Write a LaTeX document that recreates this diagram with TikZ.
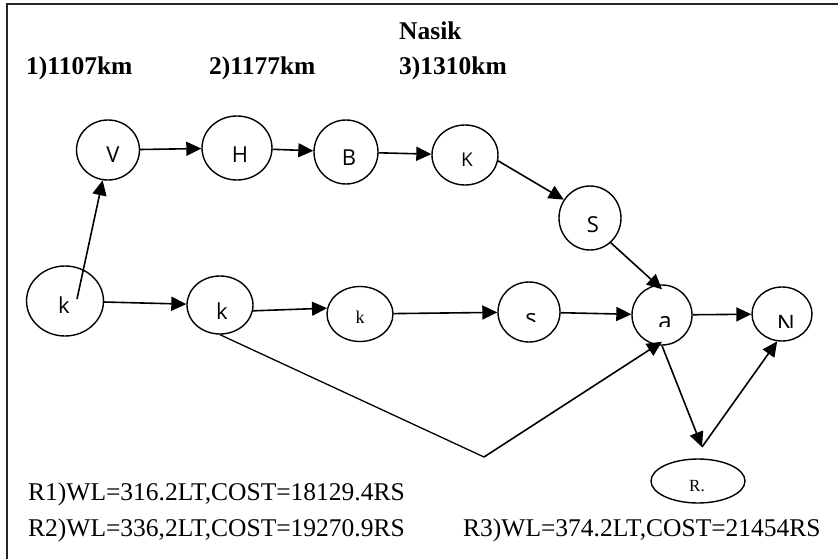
\documentclass[tikz,border=0pt]{standalone}
\usepackage{fontspec}
\setmainfont{Liberation Serif}
\newfontfamily\sansf{Open Sans}
\usetikzlibrary{arrows.meta,shapes.geometric}
\begin{document}
\begin{tikzpicture}[x=1pt,y=-1pt,
  circ/.style={draw,ellipse,inner sep=0pt,line width=1.4pt},
  conn/.style={-{Triangle[length=15pt,width=14pt]},line width=1.6pt},
  plain/.style={line width=1.3pt},
  lab/.style={inner sep=0pt,anchor=base,font=\sansf\fontsize{22}{22}\selectfont},
  clab/.style={inner sep=0pt,anchor=north,font=\sansf\fontsize{24}{24}\selectfont},
  slab/.style={inner sep=0pt,anchor=base,font=\fontsize{18}{18}\selectfont},
  head/.style={inner sep=0pt,anchor=base west,font=\bfseries\fontsize{25.5}{25.5}\selectfont},
  foot/.style={inner sep=0pt,anchor=base west,font=\fontsize{25.5}{25.5}\selectfont},
  frame/.style={line width=2pt,black!85}]
\fill[white] (0,0) rectangle (838,559);
\useasboundingbox (0,0) rectangle (838,559);
\draw[frame] (838,4) -- (7,4) -- (7,559);

% texts
\node[head] (title) at (399,40) {Nasik};
\node[head] (d1) at (26,75) {1)1107km};
\node[head] (d2) at (209,75) {2)1177km};
\node[head] (d3) at (399,75) {3)1310km};
\node[foot] (r1) at (28,500) {R1)WL=316.2LT,COST=18129.4RS};
\node[foot] (r2) at (28,536) {R2)WL=336,2LT,COST=19270.9RS};
\node[foot] (r3) at (463,536) {R3)WL=374.2LT,COST=21454RS};

% nodes
\node[circ,minimum width=77pt,minimum height=70pt] (k1) at (65,301) {};
\node[circ,minimum width=63pt,minimum height=60pt] (V) at (108,150) {};
\node[circ,minimum width=70pt,minimum height=64pt] (H) at (237,148) {};
\node[circ,minimum width=64pt,minimum height=64pt] (B) at (346,152) {};
\node[circ,minimum width=66pt,minimum height=60pt] (K) at (465,155) {};
\node[circ,minimum width=62pt,minimum height=64pt] (S) at (590,218) {};
\node[circ,minimum width=66pt,minimum height=58pt] (k2) at (220,305) {};
\node[circ,minimum width=66pt,minimum height=55pt] (k3) at (360,314) {};
\node[circ,minimum width=62pt,minimum height=60pt] (s) at (529,312) {};
\node[circ,minimum width=60pt,minimum height=60pt] (a) at (662,315) {};
\node[circ,minimum width=60pt,minimum height=54pt] (N) at (782,314) {};
\node[circ,minimum width=94pt,minimum height=44pt] (R) at (698,481) {};

% labels
\node[lab] (lk1) at (64,313) {k};
\node[lab] (lV) at (113,162) {V};
\node[lab] (lH) at (240,162) {H};
\node[lab] (lB) at (349,165) {B};
\node[lab,font=\sansf\fontsize{19}{19}\selectfont] (lK) at (467,167) {K};
\node[lab] (lS) at (593,232) {S};
\begin{scope}
\clip (195,290) rectangle (250,318);
\node[lab] (lk2) at (222,319) {k};
\end{scope}
\node[slab] (lk3) at (360,323) {k};
\node[slab,font=\fontsize{17}{17}\selectfont] (lR) at (697,491) {R.};
\begin{scope}
\clip (500,300) rectangle (560,321);
\node[clab] (ls) at (531,313) {s};
\end{scope}
\begin{scope}
\clip (640,300) rectangle (690,326);
\node[clab] (la) at (665,316) {a};
\end{scope}
\begin{scope}
\clip (760,300) rectangle (810,327);
\node[clab] (lN) at (786,315) {N};
\end{scope}

% connectors
\coordinate (kin) at (77,299);
\coordinate (vtx) at (484,457);
\coordinate (rv) at (702,447);
\draw[conn] (kin) -- (V.-100);
\draw[conn] (V) -- (H);
\draw[conn] (H) -- (B);
\draw[conn] (B) -- (K);
\draw[conn] (K.-10) -- (S.145);
\draw[conn] (S.-50) -- ([yshift=-5pt]a.north);
\draw[conn] (k1) -- (k2);
\draw[conn] (k2.-10) -- (k3.170);
\draw[conn] (k3) -- (s);
\draw[conn] (s) -- (a);
\draw[conn] (a) -- (N);
\draw[plain] (k2.south) -- (vtx);
\draw[conn] (vtx) -- ([yshift=4pt]a.south);
\draw[conn] (a.south) -- (rv);
\draw[conn] (rv) -- (N.-100);
\end{tikzpicture}
\end{document}
